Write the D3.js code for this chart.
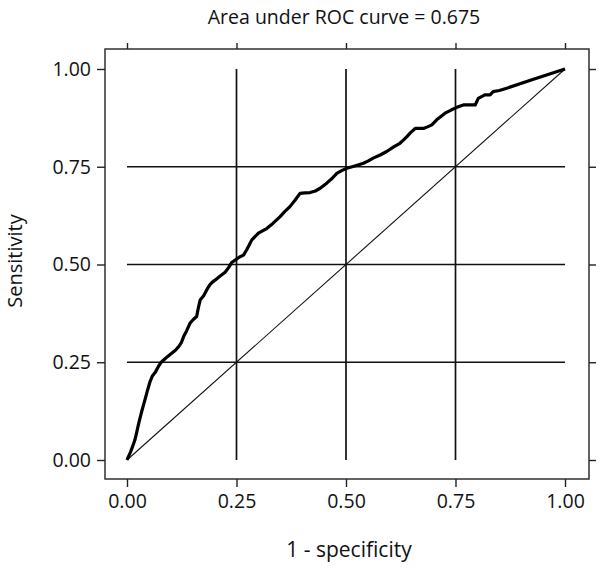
<!DOCTYPE html>
<html><head><meta charset="utf-8">
<script src="https://cdn.jsdelivr.net/npm/d3@7"></script>
<style>body{margin:0;background:#fff;} svg{display:block;} text{font-family:"Open Sans",sans-serif;fill:#111;}</style>
</head><body>
<svg id="c" width="602" height="568"></svg>
<script>
const title = "Area under ROC curve = 0.675";
const xLabel = "1 - specificity";
const yLabel = "Sensitivity";
const tickVals = [0, 0.25, 0.5, 0.75, 1];
const gridVals = [0.25, 0.5, 0.75];
// ROC curve points: 1 - specificity
const rocX = [0,0.003,0.008,0.013,0.018,0.022,0.027,0.0335,0.04,0.046,0.0525,0.058,0.065,0.072,0.078,0.085,0.093,0.102,0.11,0.118,0.124,0.129,0.136,0.144,0.152,0.159,0.163,0.167,0.175,0.182,0.189,0.195,0.201,0.212,0.224,0.232,0.239,0.248,0.258,0.266,0.273,0.279,0.285,0.30,0.319,0.333,0.349,0.36,0.372,0.384,0.395,0.406,0.418,0.43,0.441,0.456,0.468,0.479,0.49,0.502,0.52,0.54,0.551,0.562,0.578,0.593,0.608,0.623,0.631,0.639,0.648,0.658,0.677,0.686,0.696,0.707,0.716,0.726,0.74,0.753,0.768,0.795,0.802,0.817,0.829,0.836,0.85,0.867,0.928,1.0];
// Sensitivity
const rocY = [0,0.008,0.02,0.035,0.051,0.07,0.095,0.124,0.15,0.175,0.20,0.215,0.225,0.24,0.25,0.257,0.265,0.273,0.28,0.29,0.3,0.315,0.33,0.35,0.36,0.367,0.39,0.409,0.42,0.435,0.448,0.455,0.46,0.47,0.48,0.492,0.505,0.512,0.52,0.524,0.537,0.55,0.563,0.58,0.592,0.605,0.622,0.635,0.648,0.665,0.682,0.683,0.684,0.688,0.695,0.708,0.72,0.733,0.74,0.746,0.752,0.759,0.765,0.772,0.78,0.789,0.8,0.81,0.818,0.827,0.838,0.848,0.848,0.852,0.857,0.87,0.878,0.887,0.895,0.902,0.908,0.908,0.925,0.934,0.934,0.942,0.945,0.951,0.974,1.0];
const diagonal = [0, 1];

const svg = d3.select("#c");
const box = {l:105, r:589, t:49, b:479};
const x = d3.scaleLinear().domain([0,1]).range([127,565]);
const y = d3.scaleLinear().domain([0,1]).range([460,69]);
const fmt = d3.format(".2f");

// frame
svg.append("rect").attr("x",box.l).attr("y",box.t).attr("width",box.r-box.l).attr("height",box.b-box.t)
  .attr("fill","none").attr("stroke","#222").attr("stroke-width",1.4);

// axes
function styleAxis(g){ g.select(".domain").remove(); g.selectAll(".tick line").attr("stroke","#222").attr("stroke-width",1.4); g.selectAll(".tick text").attr("font-family","Open Sans").attr("font-size",19.5).attr("fill","#111"); }
svg.append("g").attr("transform",`translate(${box.l},0)`).call(d3.axisLeft(y).tickValues(tickVals).tickFormat(fmt).tickSize(8).tickPadding(6)).call(styleAxis);
svg.append("g").attr("transform",`translate(0,${box.b})`).call(d3.axisBottom(x).tickValues(tickVals).tickFormat(fmt).tickSize(8).tickPadding(7)).call(styleAxis);
svg.append("g").attr("transform",`translate(0,${box.t})`).call(d3.axisTop(x).tickValues(tickVals).tickFormat("").tickSize(6)).call(styleAxis);
svg.append("g").attr("transform",`translate(${box.r},0)`).call(d3.axisRight(y).tickValues(tickVals).tickFormat("").tickSize(7)).call(styleAxis);

// grid
svg.append("g").selectAll("line.h").data(gridVals).join("line")
  .attr("x1",x(0)).attr("x2",x(1)).attr("y1",d=>y(d)).attr("y2",d=>y(d))
  .attr("stroke","#111").attr("stroke-width",1.7);
svg.append("g").selectAll("line.v").data(gridVals).join("line")
  .attr("y1",y(0)).attr("y2",y(1)).attr("x1",d=>x(d)).attr("x2",d=>x(d))
  .attr("stroke","#111").attr("stroke-width",1.7);

// diagonal
svg.append("line").attr("x1",x(diagonal[0])).attr("y1",y(diagonal[0])).attr("x2",x(diagonal[1])).attr("y2",y(diagonal[1]))
  .attr("stroke","#111").attr("stroke-width",1.1);

// ROC curve
const pts = rocX.map((v,i)=>[v,rocY[i]]);
svg.append("path").datum(pts).attr("fill","none").attr("stroke","#000").attr("stroke-width",3.2)
  .attr("stroke-linejoin","round").attr("d",d3.line().x(d=>x(d[0])).y(d=>y(d[1])));

// titles
svg.append("text").attr("x",344).attr("y",24).attr("text-anchor","middle").attr("font-size",19.5).text(title);
svg.append("text").attr("x",349).attr("y",557).attr("text-anchor","middle").attr("font-size",21).text(xLabel);
svg.append("text").attr("transform","translate(22,261) rotate(-90)").attr("text-anchor","middle").attr("font-size",20).text(yLabel);
</script>
</body></html>
